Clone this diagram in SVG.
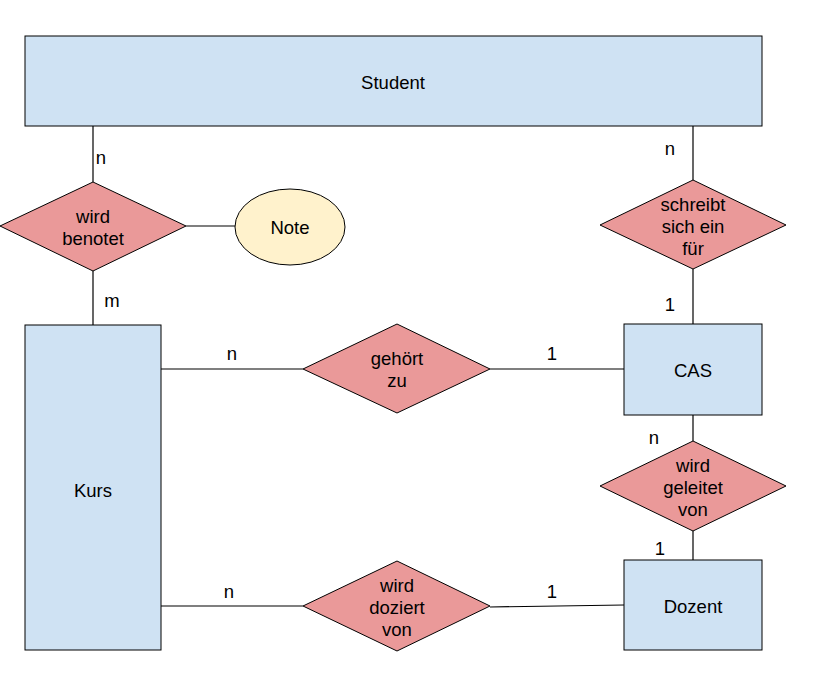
<svg xmlns="http://www.w3.org/2000/svg" width="813" height="692" viewBox="0 0 813 692">
<style>
.ent{fill:#cfe2f3;stroke:#000;stroke-width:1}
.rel{fill:#ea9999;stroke:#000;stroke-width:1}
.att{fill:#fff2cc;stroke:#000;stroke-width:1}
.c line{stroke:#000;stroke-width:1.2}
text{font-family:"Liberation Sans",Arial,sans-serif;font-size:18.5px;fill:#000;text-anchor:middle;dominant-baseline:central}
</style>
<rect width="813" height="692" fill="#fff"/>
<g id="connectors" class="c">
<line x1="93" y1="126" x2="93" y2="182"/>
<line x1="93" y1="271" x2="93" y2="325"/>
<line x1="186" y1="226" x2="235" y2="226"/>
<line x1="693" y1="126" x2="693" y2="180"/>
<line x1="693" y1="269" x2="693" y2="324"/>
<line x1="693" y1="415" x2="693" y2="441"/>
<line x1="693" y1="531" x2="693" y2="560"/>
<line x1="161" y1="369" x2="303" y2="369"/>
<line x1="490" y1="369" x2="624" y2="369"/>
<line x1="161" y1="606" x2="303" y2="606"/>
<line x1="490" y1="607" x2="624" y2="605"/>
</g>
<g id="labels">
<text x="101" y="157">n</text>
<text x="112" y="300">m</text>
<text x="670" y="148">n</text>
<text x="670" y="304">1</text>
<text x="232" y="353">n</text>
<text x="552" y="353">1</text>
<text x="654" y="437">n</text>
<text x="660" y="548">1</text>
<text x="229" y="591">n</text>
<text x="552" y="591">1</text>
</g>
<g id="student"><rect class="ent" x="25" y="36" width="737" height="90"/><text x="393" y="82">Student</text></g>
<g id="kurs"><rect class="ent" x="25" y="325" width="136" height="325"/><text x="93" y="490">Kurs</text></g>
<g id="cas"><rect class="ent" x="624" y="324" width="138" height="91"/><text x="693" y="370">CAS</text></g>
<g id="dozent"><rect class="ent" x="624" y="560" width="138" height="90"/><text x="693" y="606">Dozent</text></g>
<g id="note"><ellipse class="att" cx="290" cy="227" rx="55" ry="38"/><text x="290" y="227">Note</text></g>
<g id="wird-benotet"><polygon class="rel" points="93,182 186,226 93,271 0,226"/><text x="93" y="216">wird</text><text x="93" y="238">benotet</text></g>
<g id="schreibt-sich-ein"><polygon class="rel" points="693,180 786,225 693,269 600,225"/><text x="693" y="204">schreibt</text><text x="693" y="226">sich ein</text><text x="693" y="248">für</text></g>
<g id="wird-geleitet"><polygon class="rel" points="693,441 786,486 693,531 600,486"/><text x="693" y="465">wird</text><text x="693" y="487">geleitet</text><text x="693" y="509">von</text></g>
<g id="gehoert-zu"><polygon class="rel" points="397,324 490,369 397,413 303,369"/><text x="397" y="358">gehört</text><text x="397" y="380">zu</text></g>
<g id="wird-doziert"><polygon class="rel" points="397,561 490,606 397,651 303,606"/><text x="397" y="585">wird</text><text x="397" y="607">doziert</text><text x="397" y="629">von</text></g>
</svg>
